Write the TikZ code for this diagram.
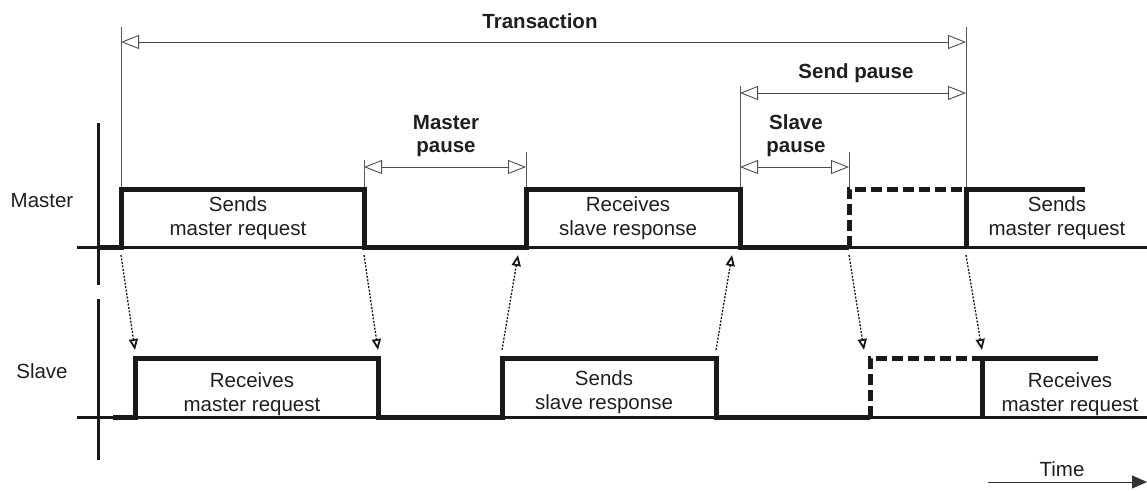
\documentclass[tikz,border=0pt]{standalone}
\usepackage{fontspec}
\setmainfont{Liberation Sans}
\usetikzlibrary{arrows.meta}
\begin{document}
\begin{tikzpicture}[x=1pt,y=-1pt,
  lbl/.style={font=\fontsize{20.5}{24}\selectfont, align=center, inner sep=0pt, text=black!88},
  blbl/.style={font=\fontsize{20.5}{23}\selectfont\bfseries, align=center, inner sep=0pt, text=black!88},
  sig/.style={line width=5pt, line join=miter, black!90},
  sigdash/.style={sig, dash pattern=on 11pt off 5pt},
  base/.style={line width=3pt, black!90},
  extline/.style={line width=0.9pt, black!65},
  dimline/.style={line width=0.9pt, black!70, {Triangle[open,length=18pt,width=14pt,line width=0.9pt]}-{Triangle[open,length=18pt,width=14pt,line width=0.9pt]}},
  msg/.style={line width=1.3pt, black!90, dash pattern=on 2pt off 1.5pt, -{Triangle[open,length=11pt,width=9pt,line width=1.8pt]}},
  timearrow/.style={line width=1pt, black!80, -{Triangle[length=15pt,width=13pt]}}
]
\useasboundingbox (0,0) rectangle (1147,490);

% axes
\draw[base] (98,123) -- (98,285);
\draw[base] (98,299) -- (98,460);
\draw[base] (77,247) -- (1147,247);
\draw[base] (77,417) -- (1147,417);

% row labels
\node[lbl] (mlabel) at (42,201) {Master};
\node[lbl] (slabel) at (42,371) {Slave};

% master signal
\draw[sig] (97,247) -- (121,247) -- (121,189) -- (364,189) -- (364,247) -- (526,247) -- (526,189) -- (740,189) -- (740,247) -- (849,247);
\draw[sigdash] (849,247) -- (849,189) -- (966,189);
\draw[sig] (966,247) -- (966,189) -- (1085,189);

% slave signal
\draw[sig] (113,417) -- (135,417) -- (135,358.5) -- (378,358.5) -- (378,417) -- (502,417) -- (502,358.5) -- (716,358.5) -- (716,417) -- (870,417);
\draw[sigdash] (870,417) -- (870,358.5) -- (982,358.5);
\draw[sig] (982,417) -- (982,358.5) -- (1098,358.5);

% texts in signals
\node[lbl] (mt1) at (238,218) {Sends\\master request};
\node[lbl] (mt2) at (628,218) {Receives\\slave response};
\node[lbl] (mt3) at (1057,218) {Sends\\master request};
\node[lbl] (st1) at (252,394) {Receives\\master request};
\node[lbl] (st2) at (604,392) {Sends\\slave response};
\node[lbl] (st3) at (1070,394) {Receives\\master request};

% extension lines
\draw[extline] (121,27) -- (121,187);
\draw[extline] (966,27) -- (966,187);
\draw[extline] (740,86) -- (740,187);
\draw[extline] (364,160) -- (364,187);
\draw[extline] (526,152) -- (526,187);
\draw[extline] (849,152) -- (849,187);

% dimension arrows
\coordinate (trL) at (121,42);
\coordinate (trR) at (966,42);
\draw[dimline] (trL) -- (trR);
\node[blbl] (trans) at (540,21) {Transaction};

\coordinate (spL) at (740,93);
\coordinate (spR) at (966,93);
\draw[dimline] (spL) -- (spR);
\node[blbl] (sendp) at (856,73) {Send pause};

\coordinate (mpL) at (364,167);
\coordinate (mpR) at (526,167);
\draw[dimline] (mpL) -- (mpR);
\node[blbl] (mpause) at (446,136) {Master\\pause};

\coordinate (slL) at (740,167);
\coordinate (slR) at (849,167);
\draw[dimline] (slL) -- (slR);
\node[blbl] (spause) at (796,136) {Slave\\pause};

% message arrows
\coordinate (a1) at (121,255);  \coordinate (b1) at (135,350);
\coordinate (a2) at (364,255);  \coordinate (b2) at (378,350);
\coordinate (a3) at (502,350);  \coordinate (b3) at (518,255);
\coordinate (a4) at (716,350);  \coordinate (b4) at (732,255);
\coordinate (a5) at (849,255);  \coordinate (b5) at (864,350);
\coordinate (a6) at (966,255);  \coordinate (b6) at (982,350);
\draw[msg] (a1) -- (b1);
\draw[msg] (a2) -- (b2);
\draw[msg] (a3) -- (b3);
\draw[msg] (a4) -- (b4);
\draw[msg] (a5) -- (b5);
\draw[msg] (a6) -- (b6);

% time
\node[lbl] (time) at (1062,469) {Time};
\coordinate (tS) at (988,482);
\coordinate (tE) at (1147,482);
\draw[timearrow] (tS) -- (tE);
\end{tikzpicture}
\end{document}
